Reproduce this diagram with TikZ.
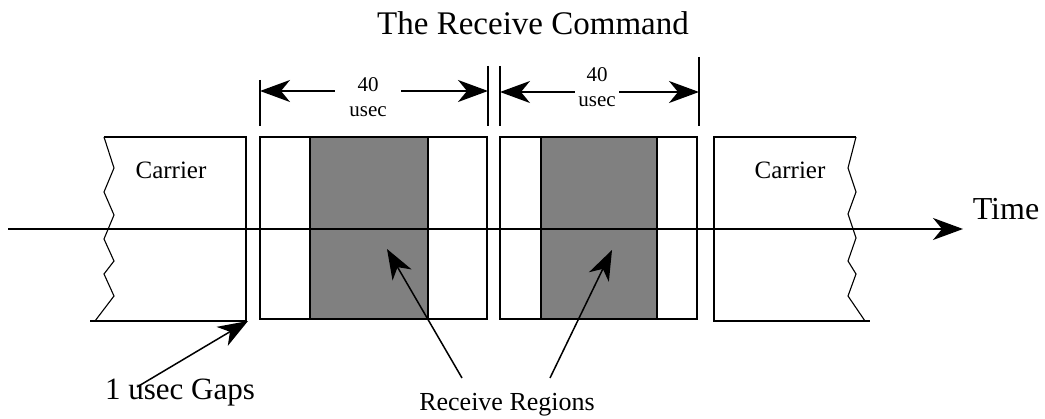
\documentclass[tikz,border=0pt]{standalone}
\usepackage{fontspec}
\setmainfont{Liberation Serif}
\usepackage{xcolor}
\usetikzlibrary{arrows.meta}

\begin{document}
\begin{tikzpicture}[x=1pt,y=-1pt,line width=1.6pt,
        ptr/.style={-{Stealth[length=30pt,width=22pt,inset=9pt]},line width=1.5pt},
        txt/.style={inner sep=0pt},
        zig/.style={line width=1.1pt},
        rxfill/.style={fill=black!50,line width=1.3pt}]
        \useasboundingbox (0,0) rectangle (1045,419);

        % Title
        \node[txt,font=\fontsize{33}{36}\selectfont] (title) at (533,23) {The Receive Command};

        % Carrier blocks
        \draw (104,137) -- (246,137) -- (246,321) -- (90,321);
        \draw[zig] (104,137) -- (114,168) -- (104,192) -- (114,215) -- (104,239)
                -- (114,261) -- (104,274) -- (114,296) -- (95,321);
        \draw (856,137) -- (714,137) -- (714,321) -- (870,321);
        \draw[zig] (856,137) -- (848,168) -- (856,192) -- (848,214) -- (856,238)
                -- (848,261) -- (856,274) -- (848,296) -- (865,321);
        \node[txt,font=\fontsize{25}{28}\selectfont] (carL) at (171,170) {Carrier};
        \node[txt,font=\fontsize{25}{28}\selectfont] (carR) at (790,170) {Carrier};

        % Slots with receive regions
        \draw (260,137) rectangle (487,319);
        \draw[rxfill] (310,137) rectangle (428,319);
        \draw (500,137) rectangle (697,319);
        \draw[rxfill] (541,137) rectangle (657,319);

        % Draw the axis
        \coordinate (tstart) at (8,229);
        \coordinate (tend) at (963,229);
        \draw[ptr] (tstart) -- (tend);
        \node[txt,anchor=west,font=\fontsize{32}{36}\selectfont] (time) at (972,209) {Time};

        % Dimension lines
        \draw (260,80) -- (260,126);
        \draw (488,66) -- (488,126);
        \draw (500,66) -- (500,126);
        \draw (699,57) -- (699,126);
        \coordinate (tA1) at (260,91);
        \coordinate (tA2) at (488,91);
        \coordinate (tB1) at (500,92);
        \coordinate (tB2) at (699,92);
        \node[align=center,inner ysep=0pt,inner xsep=14pt,font=\fontsize{21}{25}\selectfont] (dimA) at (368,97) {40\\usec};
        \node[align=center,inner ysep=0pt,inner xsep=3pt,font=\fontsize{21}{25}\selectfont] (dimB) at (597,87) {40\\usec};
        \draw[ptr] (dimA.west |- tA1) -- (tA1);
        \draw[ptr] (dimA.east |- tA2) -- (tA2);
        \draw[ptr] (dimB.west |- tB1) -- (tB1);
        \draw[ptr] (dimB.east |- tB2) -- (tB2);

        % Pointers
        \coordinate (gapL) at (248,321);
        \coordinate (rA) at (387,249);
        \coordinate (rB) at (612,250);
        \node[txt,font=\fontsize{31}{34}\selectfont] (gaps) at (180,393) {1 usec Gaps};
        \node[txt,font=\fontsize{26}{30}\selectfont] (recv) at (507,405) {Receive Regions};
        \draw[ptr] ([shift={(-43,-6)}]gaps.center) -- (gapL);
        \draw[ptr] ([shift={(-45,-27)}]recv.center) -- (rA);
        \draw[ptr] ([shift={(43,-27)}]recv.center) -- (rB);
    \end{tikzpicture}
\end{document}
